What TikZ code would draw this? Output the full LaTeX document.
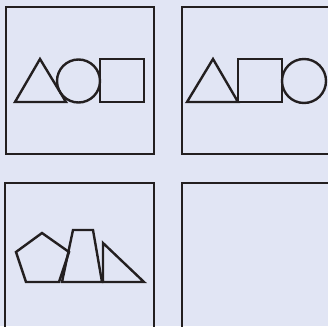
\documentclass[tikz,border=0pt]{standalone}
\definecolor{bg}{HTML}{E1E5F4}
\definecolor{ink}{HTML}{231F20}
\begin{document}
\begin{tikzpicture}[x=1pt,y=-1pt,
  panel/.style={draw=ink,line width=2pt},
  figline/.style={draw=ink,line width=2.4pt,line join=miter}]
\useasboundingbox (0,0) rectangle (328,326);
\clip (0,0) rectangle (328,326);
\fill[bg] (0,0) rectangle (328,326);
% panels
\draw[panel] (6,7) rectangle (154,154);
\draw[panel] (182,7) rectangle (340,154);
\draw[panel] (5,183) rectangle (154,340);
\draw[panel] (182,183) rectangle (340,340);
% panel 1
\draw[figline] (15,102) -- (40,59) -- (66,102) -- cycle;
\draw[figline] (78.5,81) circle (21.5);
\draw[figline] (100,59) rectangle (144,102);
% panel 2
\draw[figline] (187,102) -- (213,59) -- (238,102) -- cycle;
\draw[figline] (238,59) rectangle (282,102);
\draw[figline] (304,81) circle (22);
% panel 3
\draw[figline] (42,233) -- (69,252) -- (59,282) -- (26,282) -- (16,252) -- cycle;
\draw[figline] (62,282) -- (73,230) -- (93,230) -- (102,282) -- cycle;
\draw[figline] (103,282) -- (103,243) -- (144,282) -- cycle;
\end{tikzpicture}
\end{document}
